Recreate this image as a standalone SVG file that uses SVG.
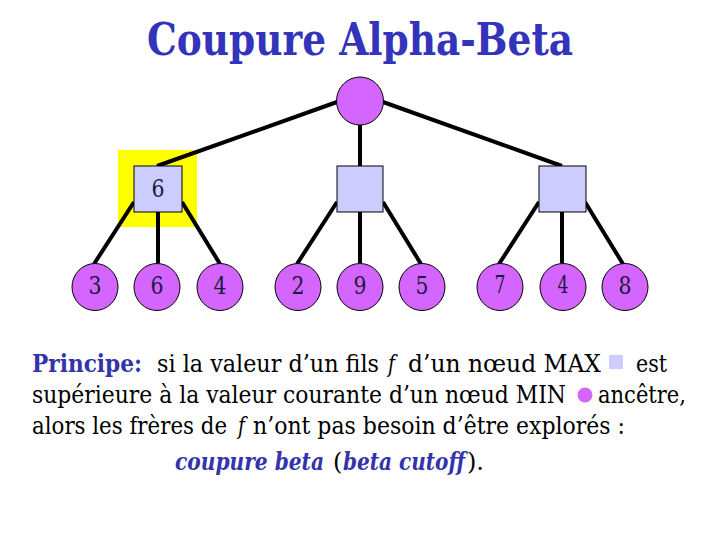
<svg xmlns="http://www.w3.org/2000/svg" width="720" height="540" viewBox="0 0 720 540">
<style>
.edge{stroke:#000;stroke-width:4;fill:none}
.min{fill:#d466ff;stroke:#000;stroke-width:1}
.max{fill:#ccccff;stroke:#000;stroke-width:1}
text{font-family:"DejaVu Serif","Liberation Serif","Noto Serif",serif}
.num{font-size:24px;fill:#1a1a40;text-anchor:middle}
.body{font-size:24px;fill:#000}
.blue{fill:#3333aa}
.bi{fill:#3333aa;font-weight:bold;font-style:italic}
</style>
<rect width="720" height="540" fill="#fff"/>
<text x="147" y="55" font-weight="bold" font-size="44" fill="#3333bb" textLength="426" lengthAdjust="spacingAndGlyphs">Coupure Alpha-Beta</text>
<rect x="118" y="150" width="79" height="77" fill="#ffff00"/>
<g id="connectors">
<line class="edge" x1="337" y1="102" x2="157" y2="166"/>
<line class="edge" x1="360" y1="125" x2="360" y2="166"/>
<line class="edge" x1="383" y1="102" x2="562" y2="166"/>
<line class="edge" x1="134" y1="202" x2="94" y2="264"/>
<line class="edge" x1="158" y1="212" x2="158" y2="263"/>
<line class="edge" x1="182" y1="202" x2="220" y2="264"/>
<line class="edge" x1="337" y1="202" x2="297" y2="264"/>
<line class="edge" x1="360" y1="212" x2="360" y2="263"/>
<line class="edge" x1="383" y1="202" x2="421" y2="264"/>
<line class="edge" x1="539" y1="202" x2="499" y2="264"/>
<line class="edge" x1="562" y1="212" x2="562" y2="263"/>
<line class="edge" x1="585" y1="202" x2="623" y2="264"/>
</g>
<g id="root"><ellipse class="min" cx="360" cy="101" rx="23.5" ry="24"/></g>
<g id="n1"><rect class="max" x="134" y="166" width="48" height="46"/><text class="num" x="158" y="197" textLength="13" lengthAdjust="spacingAndGlyphs">6</text></g>
<g id="n2"><rect class="max" x="337" y="166" width="46" height="46"/></g>
<g id="n3"><rect class="max" x="539" y="166" width="47" height="46"/></g>
<g id="l1"><ellipse class="min" cx="95" cy="287" rx="23" ry="23.5"/><text class="num" x="95" y="294" textLength="13" lengthAdjust="spacingAndGlyphs">3</text></g>
<g id="l2"><ellipse class="min" cx="157" cy="287" rx="23" ry="23.5"/><text class="num" x="157" y="294" textLength="13" lengthAdjust="spacingAndGlyphs">6</text></g>
<g id="l3"><ellipse class="min" cx="220" cy="287" rx="23" ry="23.5"/><text class="num" x="220" y="294" textLength="13" lengthAdjust="spacingAndGlyphs">4</text></g>
<g id="l4"><ellipse class="min" cx="298" cy="287" rx="23" ry="23.5"/><text class="num" x="298" y="294" textLength="13" lengthAdjust="spacingAndGlyphs">2</text></g>
<g id="l5"><ellipse class="min" cx="360" cy="287" rx="23" ry="23.5"/><text class="num" x="360" y="294" textLength="13" lengthAdjust="spacingAndGlyphs">9</text></g>
<g id="l6"><ellipse class="min" cx="422" cy="287" rx="23" ry="23.5"/><text class="num" x="422" y="294" textLength="13" lengthAdjust="spacingAndGlyphs">5</text></g>
<g id="l7"><ellipse class="min" cx="500" cy="287" rx="23" ry="23.5"/><text class="num" x="500" y="293" font-size="21" textLength="11" lengthAdjust="spacingAndGlyphs">7</text></g>
<g id="l8"><ellipse class="min" cx="563" cy="287" rx="23" ry="23.5"/><text class="num" x="563" y="293" font-size="21" textLength="11" lengthAdjust="spacingAndGlyphs">4</text></g>
<g id="l9"><ellipse class="min" cx="625" cy="287" rx="23" ry="23.5"/><text class="num" x="625" y="294" textLength="13" lengthAdjust="spacingAndGlyphs">8</text></g>
<text class="body blue" x="32" y="372" font-weight="bold" textLength="110" lengthAdjust="spacingAndGlyphs">Principe:</text>
<text class="body" x="157" y="372" textLength="222" lengthAdjust="spacingAndGlyphs">si la valeur d’un fils</text>
<text class="body" x="388" y="372" font-style="italic" textLength="7" lengthAdjust="spacingAndGlyphs">f</text>
<text class="body" x="408" y="372" textLength="193" lengthAdjust="spacingAndGlyphs">d’un nœud MAX</text>
<rect x="609" y="355" width="14" height="14" fill="#ccccff"/>
<text class="body" x="636" y="372" textLength="31" lengthAdjust="spacingAndGlyphs">est</text>
<text class="body" x="32" y="403" textLength="534" lengthAdjust="spacingAndGlyphs">supérieure à la valeur courante d’un nœud MIN</text>
<circle cx="585" cy="395" r="7.5" fill="#d466ff"/>
<text class="body" x="598" y="403" textLength="88" lengthAdjust="spacingAndGlyphs">ancêtre,</text>
<text class="body" x="32" y="434" textLength="195" lengthAdjust="spacingAndGlyphs">alors les frères de</text>
<text class="body" x="238" y="434" font-style="italic" textLength="7" lengthAdjust="spacingAndGlyphs">f</text>
<text class="body" x="253" y="434" textLength="372" lengthAdjust="spacingAndGlyphs">n’ont pas besoin d’être explorés :</text>
<text class="body bi" x="175" y="470" textLength="149" lengthAdjust="spacingAndGlyphs">coupure beta</text>
<text class="body" x="333" y="470">(</text>
<text class="body bi" x="343" y="470" textLength="122" lengthAdjust="spacingAndGlyphs">beta cutoff</text>
<text class="body" x="467" y="470">).</text>
</svg>
